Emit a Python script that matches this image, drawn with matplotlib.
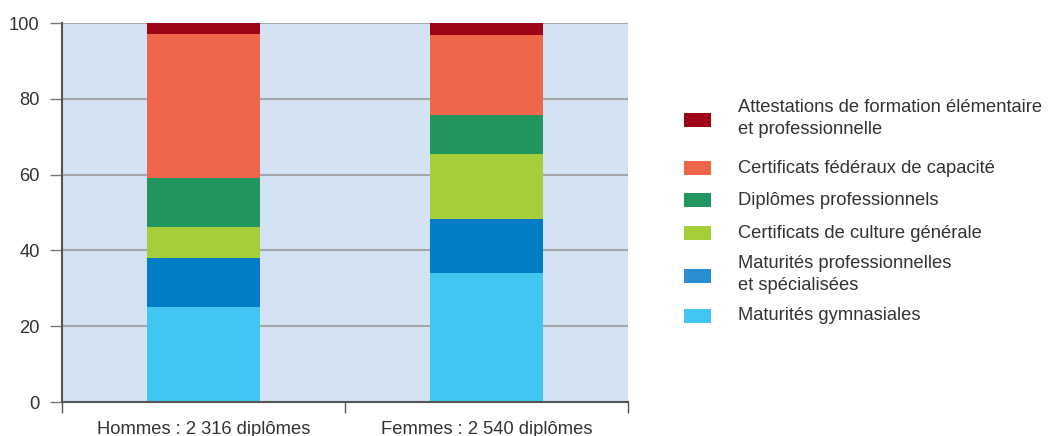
import numpy as np
import matplotlib
matplotlib.use("Agg")
import matplotlib.pyplot as plt
from matplotlib.patches import Rectangle

# --- data (percent of diplomas) ---
groups = ["Hommes : 2 316 diplômes", "Femmes : 2 540 diplômes"]
series = [
    "Maturités gymnasiales",
    "Maturités professionnelles\net spécialisées",
    "Certificats de culture générale",
    "Diplômes professionnels",
    "Certificats fédéraux de capacité",
    "Attestations de formation élémentaire\net professionnelle",
]
gymnasiales = [25.1, 34.0]
mat_prof = [12.9, 14.3]
culture_gen = [8.2, 17.1]
dipl_prof = [13.0, 10.3]
cfc = [38.0, 21.1]
afp = [2.8, 3.2]
values = [gymnasiales, mat_prof, culture_gen, dipl_prof, cfc, afp]
colors = ["#40C6F1", "#007DC4", "#A6CE3A", "#21965F", "#F0664A", "#9E0418"]
legend_colors = ["#40C6F1", "#2A8FD2", "#A6CE3A", "#21965F", "#F0664A", "#9E0418"]

plt.rcParams["font.family"] = ["Liberation Sans", "DejaVu Sans"]
text_col = "#333333"
fs = 13.2
W, H = 1048, 436

fig = plt.figure(figsize=(W / 100, H / 100), dpi=100)
ax = fig.add_axes([62 / W, 1 - 402 / H, 566 / W, 379 / H])
ax.set_facecolor("#D4E3F3")

x = np.arange(len(groups))
bottom = np.zeros(len(groups))
for vals, col in zip(values, colors):
    ax.bar(x, vals, width=0.40, bottom=bottom, color=col, zorder=3, linewidth=0)
    bottom += np.array(vals)

ax.set_xlim(-0.5, 1.5)
ax.set_ylim(0, 100)
ax.set_yticks([0, 20, 40, 60, 80, 100])
ax.yaxis.grid(True, color="#A3A7AC", linewidth=1.5, zorder=1)
ax.set_axisbelow(True)

# category boundary ticks (major, unlabeled) and labels (minor, no tick)
ax.set_xticks([-0.5, 0.5, 1.5])
ax.set_xticklabels([])
ax.set_xticks(x, minor=True)
ax.set_xticklabels(groups, minor=True)
ax.tick_params(axis="x", which="major", length=8, width=1, color="#555555")
ax.tick_params(axis="x", which="minor", length=0, pad=13.5, labelsize=fs, labelcolor=text_col)
ax.tick_params(axis="y", length=8.6, width=1, color="#777777", labelsize=fs,
               labelcolor=text_col, pad=7.5)

for s in ["top", "right"]:
    ax.spines[s].set_visible(False)
for s in ["left", "bottom"]:
    ax.spines[s].set_color("#555555")
    ax.spines[s].set_linewidth(1.5)
    ax.spines[s].set_zorder(4)

# legend, drawn by hand: swatch centre rows (pixels from top), top entry first
legend_rows = [120, 168, 200, 233, 276, 316]
for lab, col, yc in zip(series[::-1], legend_colors[::-1], legend_rows):
    fig.patches.append(Rectangle((684 / W, 1 - (yc + 7) / H), 27 / W, 14 / H,
                                 transform=fig.transFigure, color=col, linewidth=0))
    ty = yc - 1.5 if "\n" in lab else yc
    fig.text(738 / W, 1 - ty / H, lab, fontsize=fs, color=text_col, va="center",
             ha="left", linespacing=1.33)

fig.savefig("out.png", dpi=100)
plt.close(fig)
